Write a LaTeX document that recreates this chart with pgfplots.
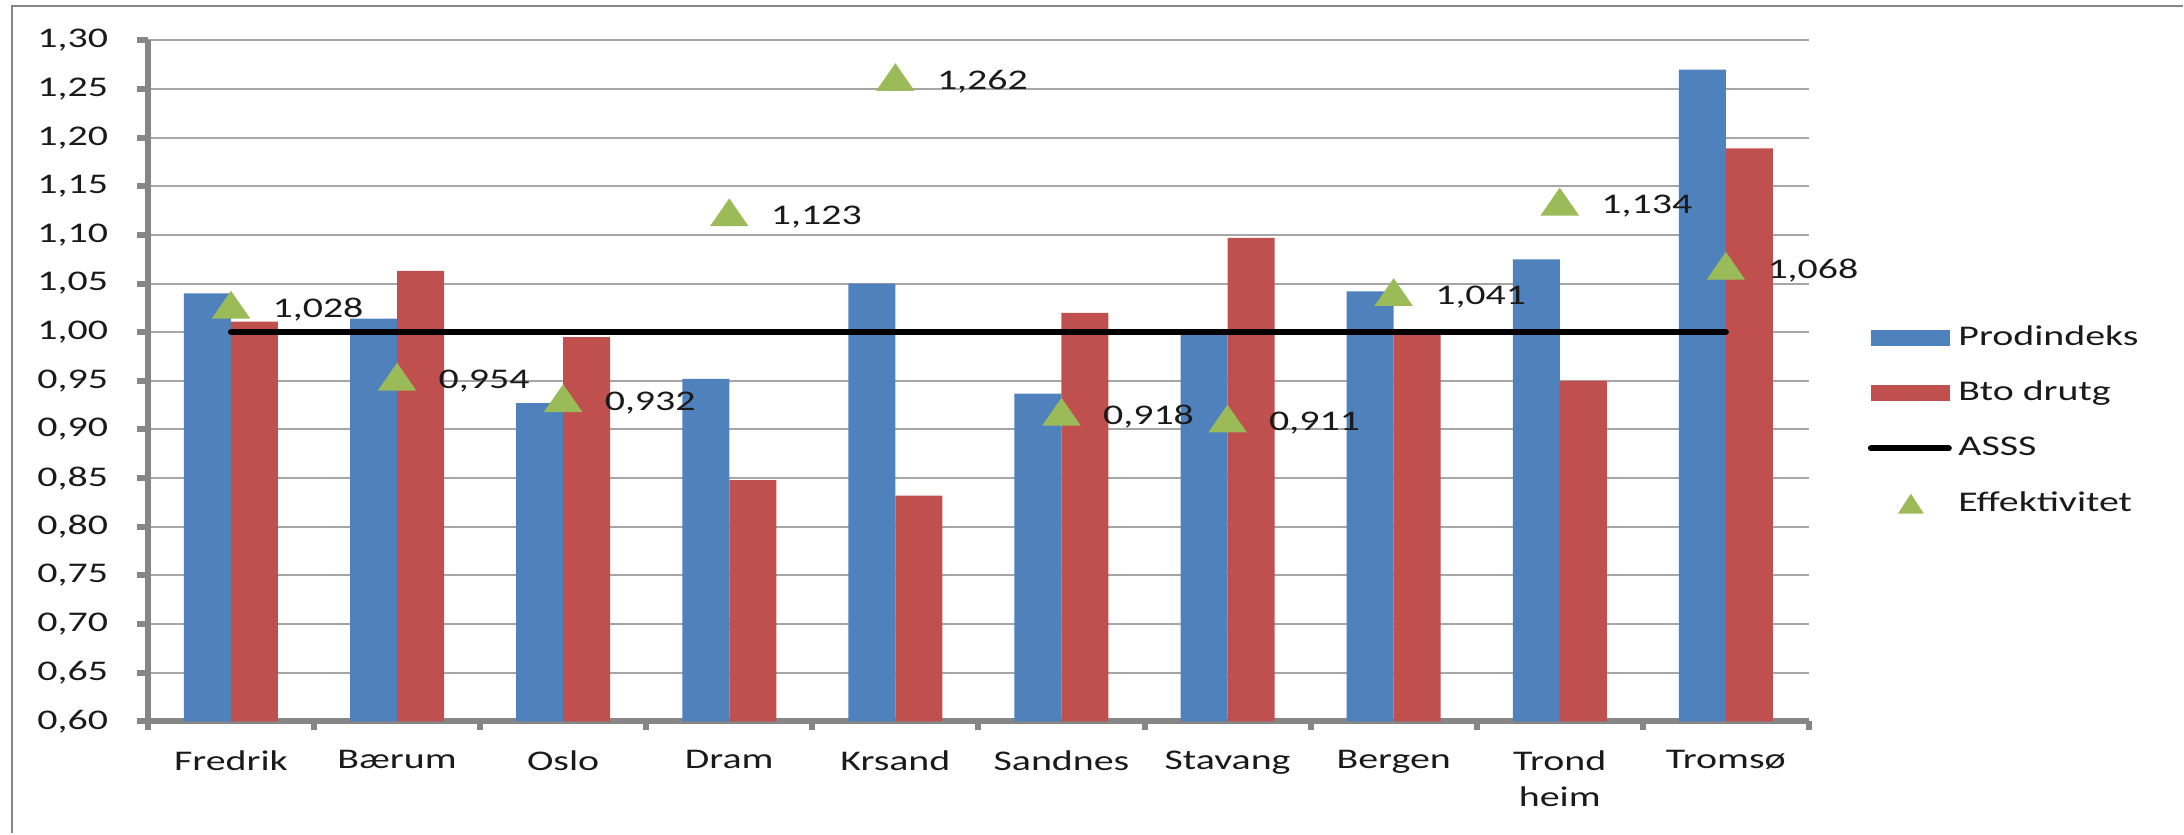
\documentclass[border=0pt]{standalone}
\usepackage{fontspec}
\setmainfont{Carlito}[FakeStretch=1.4]
\usepackage{pgfplots}
\pgfplotsset{compat=1.18}
\definecolor{barblue}{HTML}{4F81BD}
\definecolor{barred}{HTML}{C0504D}
\definecolor{effgreen}{HTML}{9BBB59}
\definecolor{axisgray}{HTML}{868686}
\definecolor{gridgray}{HTML}{A6A6A6}
\definecolor{txt}{HTML}{1A1A1A}
\pgfplotsset{
  layers/mylayers/.define layer set={axis background,axis grid,pre main,main,axis ticks,axis lines,axis tick labels,axis descriptions,axis foreground}{},
}
\newcommand{\chartfont}{\fontsize{8.55}{10.8}\selectfont}
\begin{document}
\begin{tikzpicture}
\path (0,0) rectangle (655.2pt,250.2pt);
\draw[axisgray, line width=0.8pt] (3.6pt,0pt) -- (3.6pt,248.4pt) -- (655.2pt,248.4pt);
\begin{axis}[
  set layers=mylayers,
  clip bounding box=upper bound,
  at={(44.4pt,33.66pt)}, anchor=south west,
  scale only axis, width=498.6pt, height=204.42pt,
  xmin=-0.5, xmax=9.5, ymin=0.6, ymax=1.3,
  axis lines*=left,
  axis line style={draw=axisgray, line width=1.8pt, -},
  every inner x axis line/.append style={-},
  every inner y axis line/.append style={-},
  every outer x axis line/.append style={-},
  every outer y axis line/.append style={-},
  font=\chartfont,
  ytick={0.6,0.65,0.7,0.75,0.8,0.85,0.9,0.95,1.0,1.05,1.1,1.15,1.2,1.25,1.3},
  ymajorgrids, grid style={draw=gridgray, line width=0.6pt},
  tick align=outside,
  major tick length=3.3pt, minor tick length=2.6pt,
  tick style={draw=axisgray, line width=1.8pt},
  xtick={0,1,2,3,4,5,6,7,8,9},
  xticklabels={Fredrik,Bærum,Oslo,Dram,Krsand,Sandnes,Stavang,Bergen,{Trond\\heim},Tromsø},
  major x tick style={draw=none},
  minor xtick={-0.5,0.5,1.5,2.5,3.5,4.5,5.5,6.5,7.5,8.5,9.5},
  xticklabel style={anchor=north, inner sep=0pt, align=center, yshift=-5.3pt, font=\chartfont, text=txt},
  yticklabel style={anchor=east, inner sep=0pt, xshift=-8.5pt, font=\chartfont, text=txt,
    /pgf/number format/.cd, fixed, fixed zerofill, precision=2, use comma, assume math mode=true},
  legend style={at={(1.0355,0.5816)}, anchor=north west, draw=none, fill=none,
    inner sep=0pt, outer sep=0pt, row sep=9.1pt, column sep=2pt, font=\chartfont,
    nodes={inner sep=0pt, text height=6pt, text depth=1.5pt, text=txt}, cells={anchor=west}},
]
\addplot[ybar, bar width=0.283, bar shift=-0.1415, fill=barblue, draw=none,
  legend image code/.code={\path[draw=none] (0pt,0pt) -- (25.2pt,0pt); \fill[barblue] (0.9pt,-2.4pt) rectangle (24.6pt,2.4pt);}]
  coordinates {(0,1.040) (1,1.014) (2,0.927) (3,0.952) (4,1.050) (5,0.937) (6,1.000) (7,1.042) (8,1.075) (9,1.270)};
\addlegendentry{Prodindeks}
\addplot[ybar, bar width=0.283, bar shift=0.1415, fill=barred, draw=none,
  legend image code/.code={\path[draw=none] (0pt,0pt) -- (25.2pt,0pt); \fill[barred] (0.9pt,-2.4pt) rectangle (24.6pt,2.4pt);}]
  coordinates {(0,1.011) (1,1.063) (2,0.995) (3,0.848) (4,0.832) (5,1.020) (6,1.097) (7,1.000) (8,0.950) (9,1.189)};
\addlegendentry{Bto drutg}
\addplot[black, line width=1.8pt, line cap=round, mark=none, sharp plot,
  legend image code/.code={\path[draw=none] (0pt,0pt) -- (25.2pt,0pt); \draw[black, line width=1.8pt, line cap=round] (0.9pt,0pt) -- (24.3pt,0pt);}]
  coordinates {(0,1) (1,1) (2,1) (3,1) (4,1) (5,1) (6,1) (7,1) (8,1) (9,1)};
\addlegendentry{ASSS}
\addplot[only marks, mark=triangle*, mark size=6.24pt, color=effgreen,
  mark options={draw=none, fill=effgreen, yshift=-1.3pt, yscale=0.833},
  point meta=y,
  nodes near coords={\pgfmathprintnumber[fixed, fixed zerofill, precision=3, use comma, assume math mode=true]{\pgfplotspointmeta}},
  every node near coord/.append style={anchor=west, inner sep=0pt, xshift=12.3pt, yshift=0pt, text=txt, font=\chartfont},
  legend image code/.code={\path[draw=none, fill=none] (0pt,0pt) rectangle (25.2pt,0.01pt); \fill[effgreen, draw=none] (9pt,-3pt) -- (16.8pt,-3pt) -- (12.9pt,3pt) -- cycle;}]
  coordinates {(0,1.028) (1,0.954) (2,0.932) (3,1.123) (4,1.262) (5,0.918) (6,0.911) (7,1.041) (8,1.134) (9,1.068)};
\addlegendentry{Effektivitet}
\end{axis}
\end{tikzpicture}
\end{document}
